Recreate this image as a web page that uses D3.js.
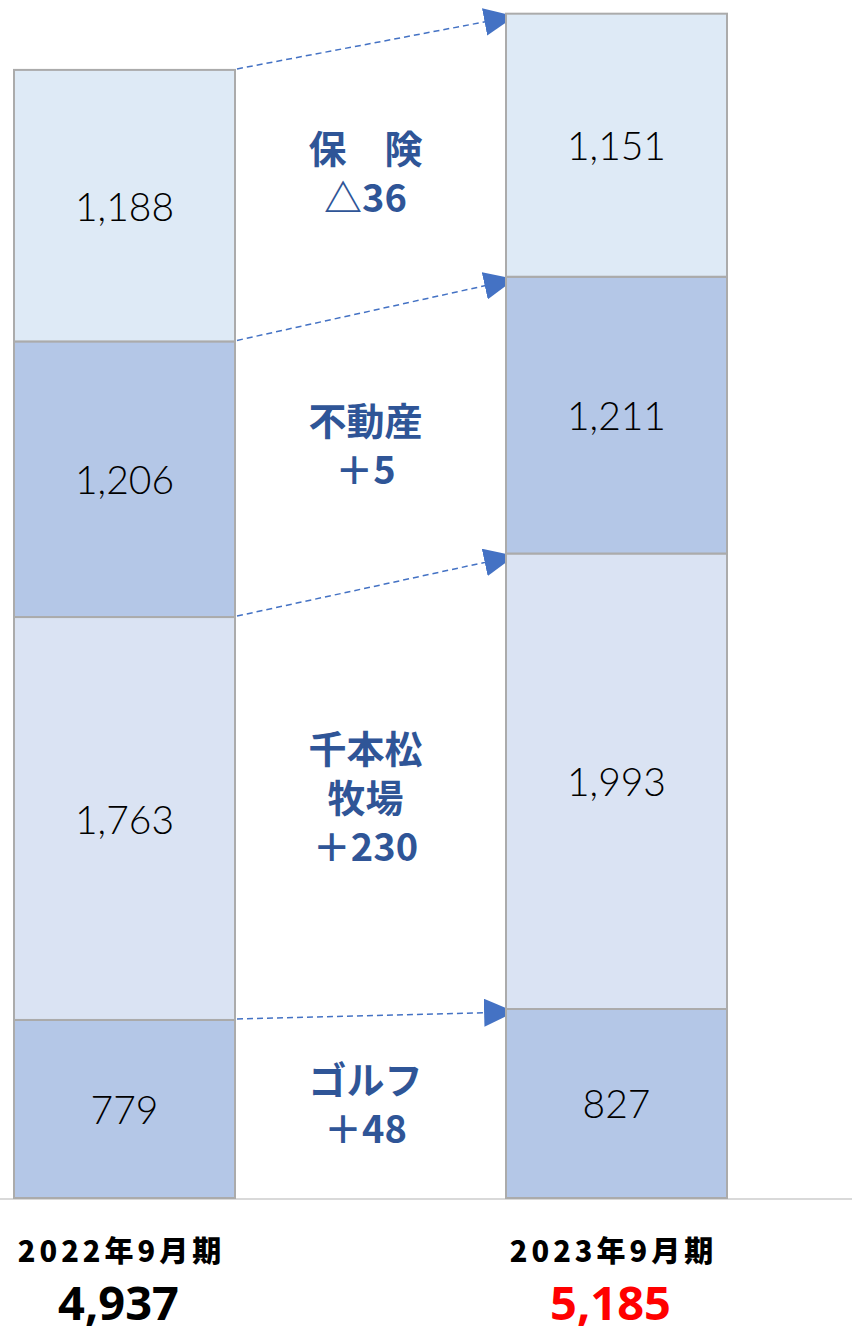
<!DOCTYPE html>
<html>
<head>
<meta charset="utf-8">
<script src="https://cdn.jsdelivr.net/npm/d3@7"></script>
<style>
  body { margin: 0; background: #fff; }
</style>
</head>
<body>
<div class="chart"></div>
<script>
// data
var periods = ["2022年9月期", "2023年9月期"];
var segments = ["ゴルフ", "千本松牧場", "不動産", "保険"];
var values2022 = [779, 1763, 1206, 1188];
var values2023 = [827, 1993, 1211, 1151];
var totals = ["4,937", "5,185"];
var diffLabels = [["ゴルフ", "＋48"], ["千本松", "牧場", "＋230"], ["不動産", "＋5"], ["保　険", "△36"]];
var segColors = ["#B4C7E7", "#DAE3F3", "#B4C7E7", "#DEEAF6"];

var svgWidth = 852, svgHeight = 1328;
var svg = d3.select(".chart").append("svg")
  .attr("width", svgWidth)
  .attr("height", svgHeight)
  .style("font-family", "'Noto Sans CJK JP', 'Noto Sans', sans-serif");

var x = d3.scaleBand().domain(periods).range([14, 727]).paddingInner(0.5508).paddingOuter(0);
var y = d3.scaleLinear().domain([0, 5185]).range([1198, 13]);

// stack each period's values
var stacked = [values2022, values2023].map(function(vals, p) {
  var acc = 0;
  return vals.map(function(v, i) {
    var d = { period: periods[p], seg: i, v: v, y0: acc, y1: acc + v };
    acc += v;
    return d;
  });
});

// axis line
svg.append("line")
  .attr("x1", 0).attr("x2", svgWidth)
  .attr("y1", y(0) + 1).attr("y2", y(0) + 1)
  .attr("stroke", "#D9D9D9").attr("stroke-width", 2);

// arrows
var defs = svg.append("defs");
defs.append("marker")
  .attr("id", "arr")
  .attr("viewBox", "0 0 10 9")
  .attr("refX", 9).attr("refY", 4.5)
  .attr("markerWidth", 31).attr("markerHeight", 28)
  .attr("markerUnits", "userSpaceOnUse")
  .attr("orient", "auto")
  .append("path").attr("d", "M0,0 L10,4.5 L0,9 Z").attr("fill", "#4472C4");

segments.forEach(function(s, i) {
  var a = stacked[0][i], b = stacked[1][i];
  svg.append("line")
    .attr("x1", x(periods[0]) + x.bandwidth() + 2)
    .attr("y1", y(a.y1) - 1)
    .attr("x2", x(periods[1]) + 6)
    .attr("y2", y(b.y1) + 3)
    .attr("stroke", "#4472C4")
    .attr("stroke-width", 1.5)
    .attr("stroke-dasharray", "6,4")
    .attr("marker-end", "url(#arr)");
});

// bars
stacked.forEach(function(col) {
  var g = svg.append("g");
  g.selectAll("rect").data(col).enter().append("rect")
    .attr("x", function(d) { return x(d.period); })
    .attr("y", function(d) { return y(d.y1); })
    .attr("width", x.bandwidth())
    .attr("height", function(d) { return y(d.y0) - y(d.y1); })
    .attr("fill", function(d) { return segColors[d.seg]; })
    .attr("stroke", "#ABABAB")
    .attr("stroke-width", 2);
  g.selectAll("text").data(col).enter().append("text")
    .attr("x", function(d) { return x(d.period) + x.bandwidth() / 2; })
    .attr("y", function(d) { return (y(d.y0) + y(d.y1)) / 2; })
    .attr("text-anchor", "middle")
    .attr("dominant-baseline", "central")
    .style("font-family", "Lato, 'Open Sans', sans-serif")
    .style("font-weight", 300)
    .style("font-size", "39px")
    .attr("fill", "#000")
    .text(function(d) { return d3.format(",")(d.v); });
});

// middle change labels
var midX = (x(periods[0]) + x.bandwidth() + x(periods[1])) / 2 - 5;
segments.forEach(function(s, i) {
  var a = stacked[0][i], b = stacked[1][i];
  var cy = ((y(a.y0) + y(a.y1)) / 2 + (y(b.y0) + y(b.y1)) / 2) / 2 - 4;
  var lines = diffLabels[i];
  var lh = 49;
  var t = svg.append("text")
    .attr("text-anchor", "middle")
    .attr("fill", "#2F5597")
    .style("font-weight", 700)
    .style("font-size", "38px");
  lines.forEach(function(l, k) {
    t.append("tspan")
      .attr("x", midX)
      .attr("y", cy + (k - (lines.length - 1) / 2) * lh)
      .attr("dominant-baseline", "central")
      .text(l);
  });
});

// bottom labels
periods.forEach(function(p, i) {
  var cx = x(p) + x.bandwidth() / 2 - 3;
  svg.append("text")
    .attr("x", cx).attr("y", 1262)
    .attr("text-anchor", "middle")
    .style("font-weight", 900)
    .style("font-size", "29px")
    .style("letter-spacing", "4px")
    .attr("fill", "#000")
    .text(p);
  svg.append("text")
    .attr("x", cx - 3).attr("y", 1320)
    .attr("text-anchor", "middle")
    .style("font-family", "'Noto Sans', 'Noto Sans CJK JP', sans-serif")
    .style("font-weight", 700)
    .style("font-size", "47px")
    .attr("fill", i === 1 ? "#FF0000" : "#000")
    .text(totals[i]);
});
</script>
</body>
</html>
